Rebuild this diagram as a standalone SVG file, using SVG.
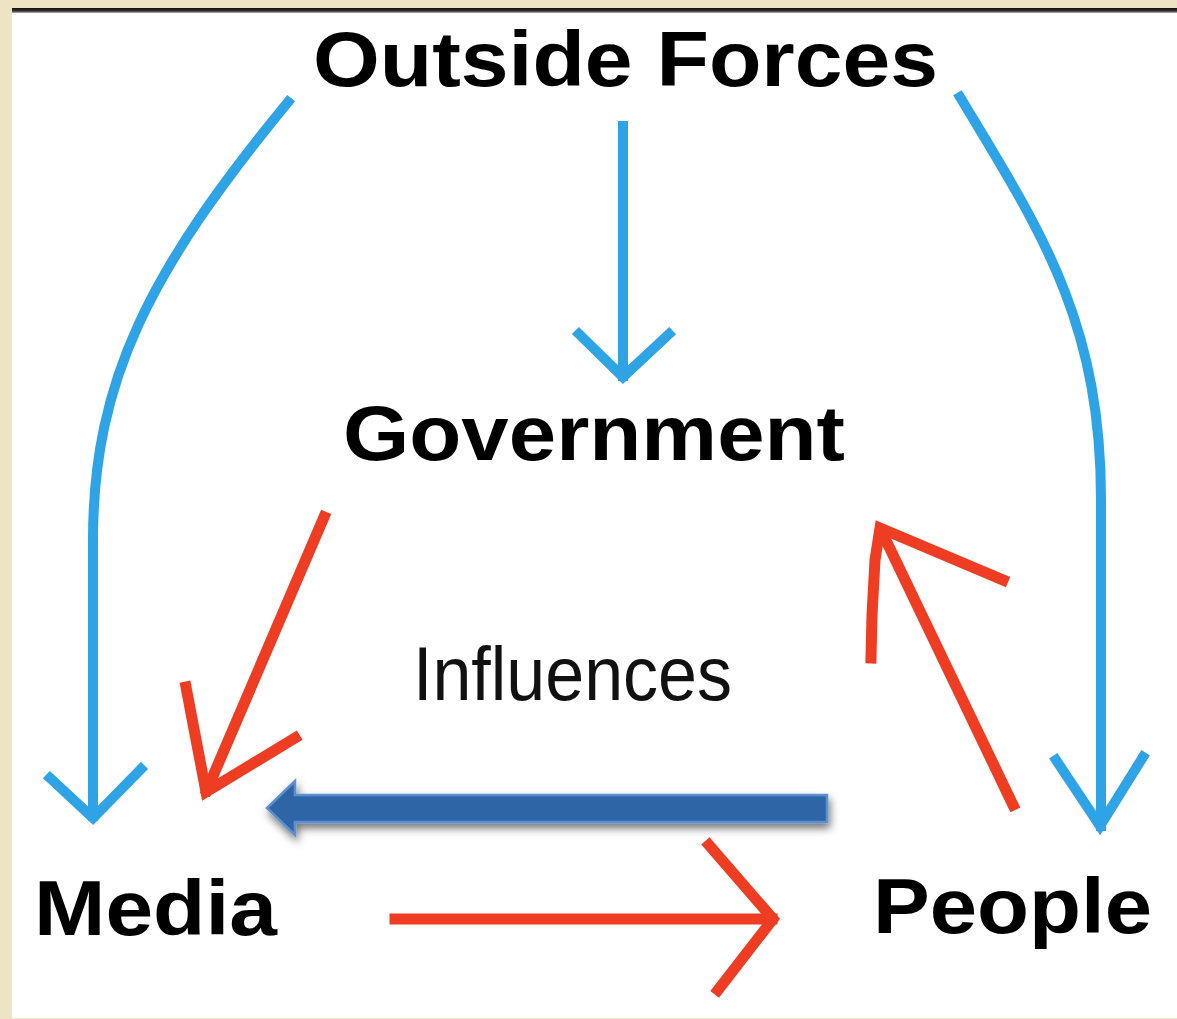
<svg xmlns="http://www.w3.org/2000/svg" width="1177" height="1019" viewBox="0 0 1177 1019">
  <defs>
    <filter id="shadow" x="-5%" y="-50%" width="110%" height="200%">
      <feDropShadow dx="2" dy="5" stdDeviation="4" flood-color="#000" flood-opacity="0.55"/>
    </filter>
    <linearGradient id="topline" x1="0" y1="0" x2="0" y2="1">
      <stop offset="0" stop-color="#111"/>
      <stop offset="0.6" stop-color="#333"/>
      <stop offset="1" stop-color="#bbb"/>
    </linearGradient>
  </defs>
  <style>
    .lbl { font-family: "Liberation Sans", Arial, sans-serif; font-weight: bold; font-size: 77px; fill: #000; }
    .inf { font-family: "Liberation Sans", Arial, sans-serif; font-size: 76px; fill: #111; }
    .blue { fill: none; stroke: #2EA3E6; stroke-width: 10; stroke-linejoin: miter; stroke-linecap: square; }
    .red { fill: none; stroke: #EE3D23; stroke-width: 11; stroke-linejoin: miter; stroke-linecap: square; }
  </style>

  <!-- background -->
  <rect x="0" y="0" width="1177" height="1019" fill="#EEE3C2"/>
  <rect x="12" y="12" width="1165" height="1006" fill="#FFFFFF"/>
  <rect x="12" y="8" width="1165" height="5" fill="url(#topline)"/>

  <!-- nodes -->
  <g id="node-outside-forces">
    <text class="lbl" x="313" y="86" textLength="625" lengthAdjust="spacingAndGlyphs">Outside Forces</text>
  </g>
  <g id="node-government">
    <text class="lbl" x="343" y="460" textLength="502" lengthAdjust="spacingAndGlyphs">Government</text>
  </g>
  <g id="node-media">
    <text class="lbl" x="34" y="935" textLength="243" lengthAdjust="spacingAndGlyphs">Media</text>
  </g>
  <g id="node-people">
    <text class="lbl" x="873" y="933" textLength="279" lengthAdjust="spacingAndGlyphs">People</text>
  </g>
  <g id="label-influences">
    <text class="inf" x="413" y="700" textLength="319" lengthAdjust="spacingAndGlyphs">Influences</text>
  </g>

  <!-- connectors -->
  <g id="connectors">
    <!-- Outside Forces -> Media -->
    <path class="blue" d="M288,102 C150,270 93,380 93,540 L93,816"/>
    <path class="blue" d="M50,778 L93,818 L141,769"/>
    <!-- Outside Forces -> Government -->
    <path class="blue" d="M623,126 L623,376"/>
    <path class="blue" d="M579,334 L623,377 L669,334"/>
    <!-- Outside Forces -> People -->
    <path class="blue" d="M960,97 C1040,230 1101,320 1101,500 L1101,826"/>
    <path class="blue" d="M1056,760 L1100,826 L1143,757"/>

    <!-- Government -> Media -->
    <path class="red" d="M324,517 L207,790"/>
    <path class="red" d="M186,687 L206,792 L295,738"/>
    <!-- People -> Government -->
    <path class="red" d="M1013,805 L882,532"/>
    <path class="red" d="M871,658 L872,615 L875,560 L880,528 L1003,580"/>
    <!-- Media -> People -->
    <path class="red" d="M395,919 L772,919"/>
    <path class="red" d="M709,845 L773,919 L718,990"/>

    <!-- Influences block arrow: People -> Media -->
    <polygon points="827,795 295,795 295,781 267,808 295,835 295,822 827,822" fill="#2F65A7" stroke="#5B8FCF" stroke-width="2.5" stroke-linejoin="miter" filter="url(#shadow)"/>
  </g>
</svg>
